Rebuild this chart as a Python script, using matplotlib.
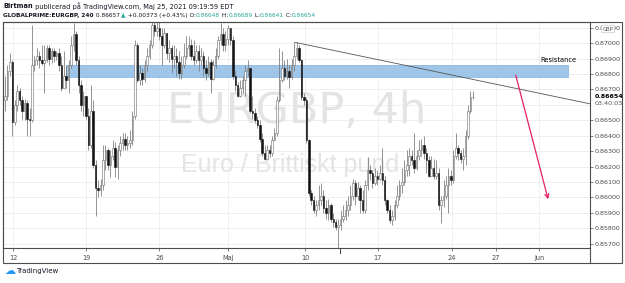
#!/usr/bin/env python3
# -*- coding: utf-8 -*-
'''
@description: EURGBP 4h candlestick snapshot with resistance zone
'''

#%% HEADER

import numpy as np
import matplotlib
matplotlib.use('Agg')
import matplotlib.pyplot as plt
from matplotlib.patches import Rectangle
from matplotlib.lines import Line2D

# Data (4h candles, open = previous close)
first_open = 0.8663
close = [
    0.8666, 0.8682, 0.8688, 0.8649, 0.8660, 0.8669, 0.8663, 0.8656, 0.8661, 0.8651,
    0.8650, 0.8686, 0.8689, 0.8692, 0.8689, 0.8687, 0.8689, 0.8697, 0.8690, 0.8695,
    0.8692, 0.8694, 0.8686, 0.8671, 0.8679, 0.8676, 0.8686, 0.8699, 0.8706, 0.8689,
    0.8673, 0.8660, 0.8666, 0.8653, 0.8634, 0.8656, 0.8621, 0.8606, 0.8605, 0.8608,
    0.8624, 0.8631, 0.8621, 0.8627, 0.8632, 0.8620, 0.8631, 0.8635, 0.8638, 0.8634,
    0.8635, 0.8637, 0.8653, 0.8699, 0.8676, 0.8681, 0.8677, 0.8686, 0.8692, 0.8699,
    0.8712, 0.8708, 0.8710, 0.8705, 0.8699, 0.8707, 0.8694, 0.8697, 0.8690, 0.8692,
    0.8688, 0.8681, 0.8686, 0.8692, 0.8697, 0.8699, 0.8692, 0.8689, 0.8695, 0.8689,
    0.8692, 0.8684, 0.8681, 0.8688, 0.8677, 0.8686, 0.8692, 0.8702, 0.8706, 0.8699,
    0.8703, 0.8710, 0.8702, 0.8679, 0.8673, 0.8666, 0.8671, 0.8676, 0.8682, 0.8684,
    0.8656, 0.8655, 0.8650, 0.8647, 0.8638, 0.8629, 0.8625, 0.8631, 0.8629, 0.8637,
    0.8642, 0.8663, 0.8676, 0.8684, 0.8679, 0.8682, 0.8678, 0.8686, 0.8692, 0.8697,
    0.8689, 0.8665, 0.8663, 0.8637, 0.8603, 0.8598, 0.8592, 0.8595, 0.8598, 0.8601,
    0.8593, 0.8590, 0.8595, 0.8586, 0.8584, 0.8581, 0.8582, 0.8586, 0.8588, 0.8592,
    0.8595, 0.8601, 0.8609, 0.8601, 0.8606, 0.8598, 0.8592, 0.8608, 0.8618, 0.8616,
    0.8609, 0.8614, 0.8612, 0.8616, 0.8611, 0.8598, 0.8592, 0.8585, 0.8588, 0.8595,
    0.8601, 0.8608, 0.8610, 0.8618, 0.8621, 0.8627, 0.8624, 0.8619, 0.8627, 0.8631,
    0.8634, 0.8629, 0.8624, 0.8614, 0.8619, 0.8614, 0.8616, 0.8595, 0.8598, 0.8601,
    0.8608, 0.8614, 0.8611, 0.8627, 0.8632, 0.8629, 0.8625, 0.8627, 0.8640, 0.8656,
    0.8665, 0.86654]
high = [
    0.8679, 0.8686, 0.8694, 0.8689, 0.8663, 0.8673, 0.8671, 0.8666, 0.8664, 0.8663,
    0.8658, 0.8712, 0.8692, 0.8697, 0.8695, 0.8699, 0.8699, 0.8699, 0.8699, 0.8697,
    0.8697, 0.8695, 0.8697, 0.8692, 0.8695, 0.8686, 0.8689, 0.8705, 0.8713, 0.8708,
    0.8692, 0.8676, 0.8669, 0.8666, 0.8658, 0.8673, 0.8663, 0.8624, 0.8611, 0.8612,
    0.8634, 0.8634, 0.8632, 0.8631, 0.8637, 0.8636, 0.8634, 0.8640, 0.8642, 0.8642,
    0.8640, 0.8644, 0.8656, 0.8702, 0.8700, 0.8686, 0.8684, 0.8689, 0.8697, 0.8702,
    0.8714, 0.8714, 0.8714, 0.8714, 0.8710, 0.8710, 0.8707, 0.8702, 0.8699, 0.8699,
    0.8697, 0.8695, 0.8692, 0.8700, 0.8705, 0.8705, 0.8703, 0.8702, 0.8699, 0.8699,
    0.8697, 0.8695, 0.8689, 0.8692, 0.8690, 0.8689, 0.8697, 0.8705, 0.8713, 0.8710,
    0.8708, 0.8712, 0.8710, 0.8705, 0.8682, 0.8675, 0.8676, 0.8679, 0.8686, 0.8689,
    0.8684, 0.8666, 0.8658, 0.8653, 0.8650, 0.8642, 0.8634, 0.8634, 0.8634, 0.8640,
    0.8645, 0.8666, 0.8697, 0.8695, 0.8689, 0.8690, 0.8686, 0.8690, 0.8701, 0.8701,
    0.8699, 0.8690, 0.8668, 0.8665, 0.8638, 0.8605, 0.8601, 0.8598, 0.8608, 0.8609,
    0.8605, 0.8598, 0.8599, 0.8596, 0.8590, 0.8586, 0.8586, 0.8592, 0.8595, 0.8598,
    0.8601, 0.8608, 0.8612, 0.8611, 0.8610, 0.8608, 0.8605, 0.8611, 0.8626, 0.8621,
    0.8618, 0.8619, 0.8618, 0.8621, 0.8632, 0.8614, 0.8599, 0.8595, 0.8592, 0.8598,
    0.8608, 0.8611, 0.8619, 0.8624, 0.8631, 0.8632, 0.8631, 0.8642, 0.8631, 0.8637,
    0.8638, 0.8640, 0.8632, 0.8627, 0.8627, 0.8625, 0.8624, 0.8619, 0.8601, 0.8611,
    0.8614, 0.8619, 0.8618, 0.8631, 0.8642, 0.8634, 0.8631, 0.8632, 0.8644, 0.8660,
    0.8669, 0.8669]
low = [
    0.8656, 0.8663, 0.8679, 0.8640, 0.8647, 0.8656, 0.8660, 0.8651, 0.8650, 0.8640,
    0.8640, 0.8649, 0.8682, 0.8686, 0.8684, 0.8686, 0.8668, 0.8688, 0.8686, 0.8687,
    0.8688, 0.8689, 0.8682, 0.8669, 0.8673, 0.8671, 0.8668, 0.8684, 0.8695, 0.8686,
    0.8668, 0.8656, 0.8653, 0.8651, 0.8631, 0.8632, 0.8619, 0.8588, 0.8600, 0.8601,
    0.8605, 0.8618, 0.8618, 0.8613, 0.8624, 0.8613, 0.8612, 0.8627, 0.8631, 0.8631,
    0.8631, 0.8632, 0.8634, 0.8651, 0.8675, 0.8673, 0.8673, 0.8675, 0.8682, 0.8690,
    0.8697, 0.8705, 0.8705, 0.8702, 0.8686, 0.8697, 0.8690, 0.8688, 0.8681, 0.8684,
    0.8679, 0.8677, 0.8677, 0.8684, 0.8690, 0.8692, 0.8689, 0.8686, 0.8687, 0.8682,
    0.8686, 0.8679, 0.8676, 0.8679, 0.8668, 0.8676, 0.8684, 0.8690, 0.8699, 0.8695,
    0.8695, 0.8699, 0.8699, 0.8677, 0.8669, 0.8665, 0.8665, 0.8668, 0.8666, 0.8679,
    0.8655, 0.8651, 0.8648, 0.8645, 0.8636, 0.8627, 0.8624, 0.8625, 0.8626, 0.8627,
    0.8637, 0.8640, 0.8662, 0.8675, 0.8676, 0.8677, 0.8671, 0.8677, 0.8682, 0.8690,
    0.8688, 0.8663, 0.8660, 0.8635, 0.8601, 0.8595, 0.8590, 0.8588, 0.8592, 0.8595,
    0.8590, 0.8586, 0.8585, 0.8584, 0.8581, 0.8579, 0.8567, 0.8579, 0.8584, 0.8585,
    0.8588, 0.8592, 0.8598, 0.8595, 0.8598, 0.8590, 0.8590, 0.8590, 0.8605, 0.8611,
    0.8606, 0.8608, 0.8608, 0.8611, 0.8608, 0.8595, 0.8590, 0.8583, 0.8582, 0.8585,
    0.8593, 0.8598, 0.8603, 0.8608, 0.8614, 0.8614, 0.8621, 0.8616, 0.8618, 0.8624,
    0.8627, 0.8625, 0.8616, 0.8613, 0.8614, 0.8612, 0.8612, 0.8592, 0.8583, 0.8594,
    0.8599, 0.8590, 0.8608, 0.8609, 0.8625, 0.8624, 0.8622, 0.8618, 0.8621, 0.8638,
    0.8655, 0.8664]

date_labels  = ['12', '19', '26', 'Maj', '10', '17', '24', '27', 'Jun']
date_pos     = [3.4, 33.2, 63.0, 90.9, 122.6, 152.2, 182.4, 200.3, 218.0]
price_levels = [0.857, 0.858, 0.859, 0.860, 0.861, 0.862, 0.863, 0.864,
                0.865, 0.866, 0.867, 0.868, 0.869, 0.870, 0.871]
last_price   = 0.86654
zone         = (0.8678, 0.8686)

# Colours
grid_c  = '#ededed'
frame_c = '#4d4d4d'
teal    = '#26a69a'
dark    = '#131722'

W, H = 625, 283
fx = lambda px: px / W
fy = lambda py: 1 - py / H

#%% FIGURE

fig = plt.figure(figsize=(W / 100, H / 100), dpi=100)
ax  = fig.add_axes([fx(3), fy(248), fx(590) - fx(3), fy(22) - fy(248)])
ax.set_xlim(-0.82, 238.8)
ax.set_ylim(0.856708, 0.871383)

# Grid
for p in price_levels:
    ax.axhline(p, color=grid_c, lw=0.6, zorder=0)
for x in date_pos:
    ax.axvline(x, color=grid_c, lw=0.6, zorder=0)

# Watermark (kept inside the axes so candles are drawn over it)
ax.text(fx(297), fy(111), 'EURGBP, 4h', fontsize=31, color='#e4e4e4', ha='center', va='center',
        transform=fig.transFigure, zorder=1)
ax.text(fx(290), fy(165), 'Euro / Brittiskt pund', fontsize=18, color='#e4e4e4', ha='center', va='center',
        family=['Liberation Sans', 'DejaVu Sans'], transform=fig.transFigure, zorder=1)

# Resistance zone
ax.add_patch(Rectangle((25, zone[0]), 229.8 - 25, zone[1] - zone[0], facecolor='#9fc5e8',
                       edgecolor='#7fb0de', lw=0.5, zorder=1.5))
ax.text(226, zone[1] + 0.0001, 'Resistance', fontsize=4.8, color='black', ha='center', va='bottom', zorder=5)

# Candles
opens = [first_open] + close[:-1]
for i, (o, c, h, l) in enumerate(zip(opens, close, high, low)):
    up = c >= o
    ax.vlines(i, min(l, o, c), max(h, o, c), color='#777777', lw=0.55, zorder=2)
    body = max(abs(c - o), 0.00002)
    ax.bar(i, body, bottom=min(o, c), width=0.62, color='white' if up else '#111111',
           edgecolor='#6a6a6a' if up else '#111111', linewidth=0.4, zorder=3)

# Trend line and arrow
ax.plot([118.4, 238.8], [0.87006, 0.86607], color='#555555', lw=0.6, zorder=4)
ax.annotate('', xy=(222, 0.8597), xytext=(208.2, 0.8681),
            arrowprops=dict(arrowstyle='->', color='#e91e63', lw=0.9, mutation_scale=7), zorder=5)

# Axes styling
for s in ax.spines.values():
    s.set_color(frame_c)
    s.set_linewidth(0.8)
ticks = [p for p in price_levels if p != 0.866]
ax.yaxis.tick_right()
ax.set_yticks(ticks, [f'{p:.5f}' for p in ticks])
ax.tick_params(axis='y', length=2.5, width=0.5, pad=1, labelsize=4.6, colors='#4a4a4a')
ax.set_xticks(date_pos, date_labels)
ax.tick_params(axis='x', length=2.5, width=0.5, pad=2.5, labelsize=4.8, colors='#4a4a4a')

# Current price label
ax.text(1.008, last_price, f'{last_price:.5f}', transform=ax.get_yaxis_transform(), fontsize=4.6,
        fontweight='bold', color='black', ha='left', va='center',
        bbox=dict(facecolor='white', edgecolor='none', pad=0.3))
ax.text(1.008, last_price - 0.00042, '03:40:03', transform=ax.get_yaxis_transform(), fontsize=4.6,
        color='#555555', ha='left', va='center')
fig.text(fx(608), fy(29), 'GBP', fontsize=3.8, color='#555555', ha='center', va='center',
         bbox=dict(boxstyle='round,pad=0.25', facecolor='white', edgecolor='#bbbbbb', lw=0.4))

# Outer frame
fig.add_artist(Rectangle((fx(3), fy(263)), fx(622) - fx(3), fy(22) - fy(263), transform=fig.transFigure,
                         fill=False, edgecolor=frame_c, lw=0.8))
fig.add_artist(Line2D([fx(590), fx(590)], [fy(263), fy(248)], color=frame_c, lw=0.8))
fig.add_artist(Line2D([fx(340), fx(340)], [fy(253), fy(248)], color=frame_c, lw=0.8))

#%% HEADER TEXT

renderer = fig.canvas.get_renderer()

def write(x, y, parts, size=5):
    for s, w, c in parts:
        t = fig.text(x, y, s, fontsize=size, fontweight=w, color=c, ha='left', va='center')
        x += t.get_window_extent(renderer=renderer).width / fig.bbox.width

write(fx(3), fy(6), [('Birtman', 'bold', dark),
                     (' publicerad på TradingView.com, Maj 25, 2021 09:19:59 EDT', 'normal', dark)], size=4.8)
write(fx(3), fy(15.5), [('GLOBALPRIME:EURGBP, 240', 'bold', dark), (' 0.86657 ', 'normal', dark),
                        ('▲', 'normal', teal), (' +0.00373 (+0.43%) O:', 'normal', dark),
                        ('0.86648', 'normal', teal), (' H:', 'normal', dark), ('0.86689', 'normal', teal),
                        (' L:', 'normal', dark), ('0.86641', 'normal', teal), (' C:', 'normal', dark),
                        ('0.86654', 'normal', teal)], size=4.2)

# Logo
fig.text(fx(4), fy(271), '☁', fontsize=8, color='#2196f3', ha='left', va='center')
fig.text(fx(16), fy(271), 'TradingView', fontsize=5, color=dark, ha='left', va='center')

fig.savefig('out.png', dpi=100, facecolor='white')
